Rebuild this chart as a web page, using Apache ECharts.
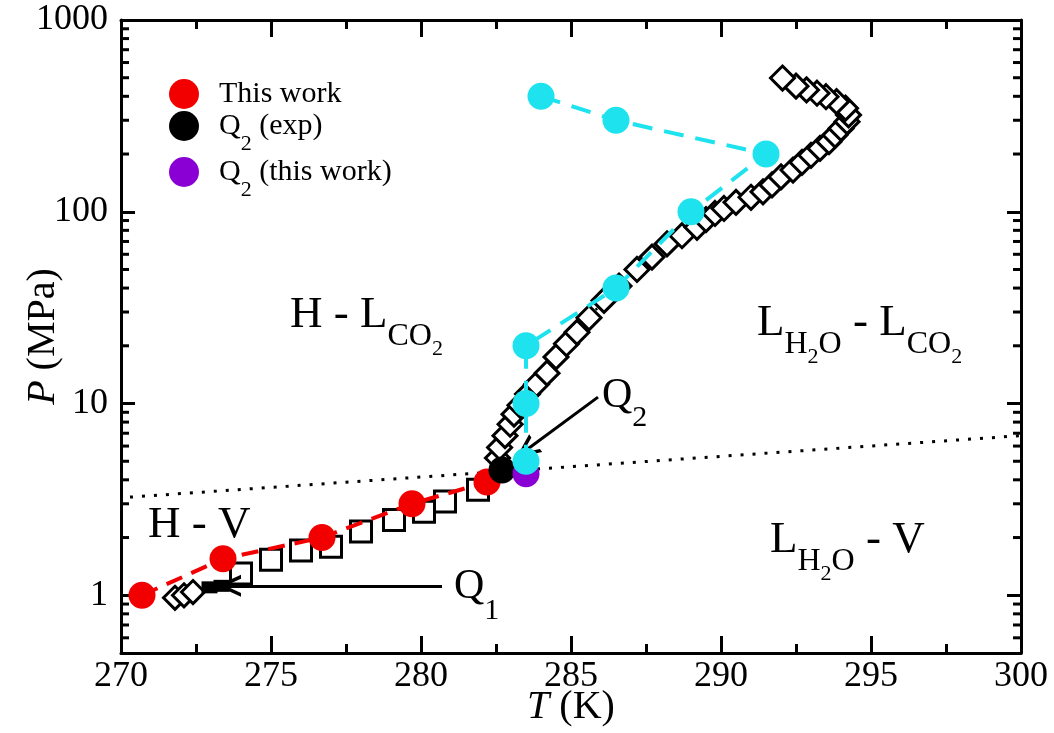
<!DOCTYPE html>
<html><head><meta charset="utf-8">
<script src="https://cdn.jsdelivr.net/npm/echarts@6/dist/echarts.min.js"></script>
<style>html,body{margin:0;padding:0;background:#fff}#c{width:1054px;height:733px}</style>
</head><body><div id="c"></div>
<script>
// ---- data ----
const thisWorkT = [270.7, 273.4, 276.7, 279.7, 282.2];
const thisWorkP = [1.0, 1.55, 2.0, 3.0, 3.9];
const cyanT = [284.0, 286.5, 291.5, 289.0, 286.5, 283.5, 283.5, 283.5];
const cyanP = [400, 300, 200, 100, 40, 20, 10, 5];
const q2ExpT = [282.7];
const q2ExpP = [4.5];
const q2WorkT = [283.5];
const q2WorkP = [4.3];
const squareT = [274.0, 275.0, 276.0, 277.0, 278.0, 279.1, 280.1, 280.8, 281.9];
const squareP = [1.30, 1.53, 1.71, 1.79, 2.15, 2.47, 2.73, 3.08, 3.55];
const diamondLowT = [271.8, 272.1, 272.4];
const diamondLowP = [0.97, 1.0, 1.04];
const q1ExpT = [272.95, 273.35];
const q1ExpP = [1.1, 1.12];
const diamondT = [282.55, 282.62, 282.8, 282.97, 283.1, 283.3, 283.55, 283.85, 284.2, 284.5, 284.85, 285.2, 285.6, 286.1, 286.6, 287.2, 287.7, 288.2, 288.7, 289.2, 289.5, 289.8, 290.1, 290.5, 291.0, 291.4, 291.7, 292.0, 292.4, 292.7, 293.0, 293.3, 293.6, 293.8, 294.0, 294.2, 294.25, 294.15, 293.85, 293.5, 293.2, 292.85, 292.5, 292.05];
const diamondP = [5.2, 5.9, 6.8, 7.8, 8.8, 9.8, 11.2, 12.6, 14.4, 17.5, 20.5, 23.5, 28, 34.5, 41, 50, 58, 68, 75, 83, 91, 98, 104, 112, 119, 127, 138, 152, 165, 181, 197, 214, 232, 251, 272, 295, 320, 347, 375, 398, 415, 432, 452, 498];
const boundaryT = [270.3, 300];
const boundaryP = [3.25, 6.8];
const q1Arrow = [[280.7, 1.12], [273.6, 1.12]];
const q2Arrow = [[285.9, 10.8], [283.5, 5.7]];
const yMinorTicks = [0.6, 0.7, 0.8, 0.9, 2, 3, 4, 5, 6, 7, 8, 9, 20, 30, 40, 50, 60, 70, 80, 90, 200, 300, 400, 500, 600, 700, 800, 900];
const xTickLabels = ['270', '275', '280', '285', '290', '295', '300'];

const zip = (a, b) => a.map((v, i) => [v, b[i]]);
const FF = 'Liberation Serif';
const chevron = 'path://M0,20 L10,0 L20,20 L16.5,20 L10,7 L3.5,20 Z';

const axisCommon = {
  axisLine: { lineStyle: { color: '#000', width: 3 } },
  splitLine: { show: false }
};
const xBase = Object.assign({}, axisCommon, {
  type: 'value', min: 270, max: 300, interval: 5,
  axisTick: { inside: true, length: 17, lineStyle: { color: '#000', width: 3 } },
  minorTick: { show: true, splitNumber: 2, length: 9, lineStyle: { color: '#000', width: 3 } }
});
const yBase = Object.assign({}, axisCommon, {
  type: 'log', logBase: 10, min: 0.5, max: 1000,
  axisTick: { inside: true, length: 14, lineStyle: { color: '#000', width: 3 } }
});

const sub = (size, d) => ({ fontFamily: FF, fontSize: size, color: '#000', padding: [d, 0, -d, 0] });
const main = size => ({ fontFamily: FF, fontSize: size, color: '#000' });
function label(x, y, text, m, s, ss, ds, dss) {
  return { type: 'text', x: x, y: y, z: 100,
    style: { text: text, fill: '#000', font: m + 'px ' + FF, align: 'left', verticalAlign: 'middle',
      rich: { m: main(m), s: sub(s, ds), ss: sub(ss, dss) } } };
}

const chart = echarts.init(document.getElementById('c'));
chart.setOption({
  animation: false,
  backgroundColor: '#fff',
  grid: { left: 121, right: 33, top: 20, bottom: 80, outerBoundsMode: 'none', containLabel: false },
  legend: {
    left: 164, top: 74, orient: 'vertical', icon: 'circle', itemWidth: 30, itemHeight: 30, itemGap: 2,
    data: ['This work', 'Q2 (exp)', 'Q2 (this work)'],
    formatter: n => n.replace('Q2', 'Q{s|2}'),
    textStyle: { fontFamily: FF, fontSize: 30, color: '#000', padding: [0, 0, 0, 15],
      rich: { s: { fontFamily: FF, fontSize: 22, color: '#000', padding: [18, 0, -18, 0] } } }
  },
  xAxis: [
    Object.assign({}, xBase, {
      position: 'bottom',
      axisLabel: { fontFamily: FF, fontSize: 36, color: '#000', margin: 6,
        formatter: v => xTickLabels[Math.round((v - 270) / 5)] },
      name: '{i|T} (K)', nameLocation: 'middle', nameGap: 34, nameMoveOverlap: false,
      nameTextStyle: { fontFamily: FF, fontSize: 40, color: '#000',
        rich: { i: { fontFamily: FF, fontSize: 40, fontStyle: 'italic', color: '#000' } } }
    }),
    Object.assign({}, xBase, { position: 'top', axisLabel: { show: false } })
  ],
  yAxis: [
    Object.assign({}, yBase, {
      position: 'left',
      axisLabel: { fontFamily: FF, fontSize: 36, color: '#000', margin: 13, showMinLabel: false,
        formatter: v => String(Math.round(v)) },
      name: '{i|P} (MPa)', nameLocation: 'middle', nameGap: 58, nameRotate: 90, nameMoveOverlap: false,
      nameTextStyle: { fontFamily: FF, fontSize: 40, color: '#000',
        rich: { i: { fontFamily: FF, fontSize: 40, fontStyle: 'italic', color: '#000' } } }
    }),
    Object.assign({}, yBase, { position: 'right', axisLabel: { show: false } })
  ],
  series: [
    { type: 'custom', silent: true, clip: false, z: 20,
      data: yMinorTicks.map(v => [270, v]),
      renderItem: (params, api) => {
        const v = api.value(1);
        const l = api.coord([270, v]);
        const r = api.coord([300, v]);
        const st = { stroke: '#000', lineWidth: 3 };
        return { type: 'group', children: [
          { type: 'line', shape: { x1: l[0], y1: l[1], x2: l[0] + 8, y2: l[1] }, style: st },
          { type: 'line', shape: { x1: r[0], y1: r[1], x2: r[0] - 8, y2: r[1] }, style: st }
        ] };
      } },
    { name: 'boundary', type: 'line', z: 1, data: zip(boundaryT, boundaryP), symbol: 'none',
      lineStyle: { color: '#000', width: 3, type: [3, 9] } },
    { name: 'squares', type: 'scatter', z: 2, data: zip(squareT, squareP), symbol: 'rect', symbolSize: 21,
      itemStyle: { color: '#fff', borderColor: '#000', borderWidth: 3, opacity: 1 } },
    { name: 'diamondsLow', type: 'scatter', z: 3, data: zip(diamondLowT, diamondLowP), symbol: 'diamond', symbolSize: 23,
      itemStyle: { color: '#fff', borderColor: '#000', borderWidth: 3, opacity: 1 } },
    { name: 'q1exp', type: 'scatter', z: 3, data: zip(q1ExpT, q1ExpP), symbol: 'rect', symbolSize: [16, 12],
      itemStyle: { color: '#000', opacity: 1 } },
    { name: 'diamonds', type: 'line', z: 3, data: zip(diamondT, diamondP), symbol: 'diamond', symbolSize: 24,
      itemStyle: { color: '#fff', borderColor: '#000', borderWidth: 3, opacity: 1 },
      lineStyle: { color: '#000', width: 2.5, type: [2, 10] } },
    { name: 'This work', type: 'line', z: 4, data: zip(thisWorkT, thisWorkP), symbol: 'circle', symbolSize: 27,
      itemStyle: { color: '#f20000', opacity: 1 }, lineStyle: { color: '#f20000', width: 4, type: [17, 10] } },
    { name: 'Q2 (exp)', type: 'scatter', z: 5, data: zip(q2ExpT, q2ExpP), symbol: 'circle', symbolSize: 27,
      itemStyle: { color: '#000', opacity: 1 } },
    { name: 'Q2 (this work)', type: 'scatter', z: 6, data: zip(q2WorkT, q2WorkP), symbol: 'circle', symbolSize: 27,
      itemStyle: { color: '#8a00d4', opacity: 1 } },
    { name: 'cyan', type: 'line', z: 7, data: zip(cyanT, cyanP), symbol: 'circle', symbolSize: 27,
      itemStyle: { color: '#1ee3ee', opacity: 1 }, lineStyle: { color: '#1ee3ee', width: 4, type: [20, 12] } },
    { name: 'arrows', type: 'line', z: 8, data: [],
      markLine: { silent: true, symbol: ['none', chevron], symbolSize: [22, 24], label: { show: false },
        lineStyle: { color: '#000', width: 3, type: 'solid' },
        data: [
          [{ coord: q1Arrow[0] }, { coord: q1Arrow[1] }],
          [{ coord: q2Arrow[0] }, { coord: q2Arrow[1] }]
        ] } }
  ],
  graphic: [
    label(290, 315, '{m|H - L}{s|CO}{ss|2}', 45, 32, 22, 22, 34),
    label(757, 323, '{m|L}{s|H}{ss|2}{s|O}{m| - L}{s|CO}{ss|2}', 45, 32, 22, 22, 34),
    label(148, 525, '{m|H - V}', 45, 32, 22, 22, 34),
    label(770, 540, '{m|L}{s|H}{ss|2}{s|O}{m| - V}', 45, 32, 22, 22, 34),
    label(454, 587, '{m|Q}{s|1}', 42, 30, 22, 24, 30),
    label(602, 396, '{m|Q}{s|2}', 42, 30, 22, 22, 30)
  ]
});
</script></body></html>
